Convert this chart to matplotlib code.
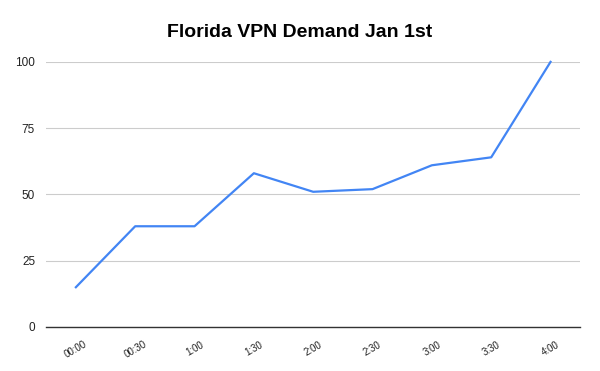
import matplotlib
matplotlib.use("Agg")
import matplotlib.pyplot as plt

times = ["00:00", "00:30", "1:00", "1:30", "2:00", "2:30", "3:00", "3:30", "4:00"]
demand = [15, 38, 38, 58, 51, 52, 61, 64, 100]
y_ticks = [0, 25, 50, 75, 100]

plt.rcParams['font.family'] = ['Liberation Sans', 'DejaVu Sans']

fig = plt.figure(figsize=(6, 3.71), dpi=100)
ax = fig.add_axes([0.077, 0.1186, 0.89, 0.7146])

x = list(range(len(times)))
ax.plot(x, demand, color='#4285f4', linewidth=1.6, clip_on=False)

ax.set_xlim(-0.5, len(times) - 0.5)
ax.set_ylim(0, 100)
ax.set_yticks(y_ticks)
ax.set_yticklabels([str(v) for v in y_ticks], fontsize=8.5, color='#222222')
ax.set_xticks(x)
ax.set_xticklabels(times, fontsize=7, rotation=30, color='#222222', ha='center')
ax.tick_params(axis='both', length=0)
ax.tick_params(axis='y', pad=8)
ax.tick_params(axis='x', pad=9)

ax.grid(axis='y', color='#cccccc', linewidth=0.8)
ax.set_axisbelow(True)
for side in ['top', 'right', 'left']:
    ax.spines[side].set_visible(False)
ax.spines['bottom'].set_color('#333333')
ax.spines['bottom'].set_linewidth(1.0)

fig.suptitle("Florida VPN Demand Jan 1st", fontsize=14, fontweight='bold', y=0.935)

fig.savefig("out.png", dpi=100)
